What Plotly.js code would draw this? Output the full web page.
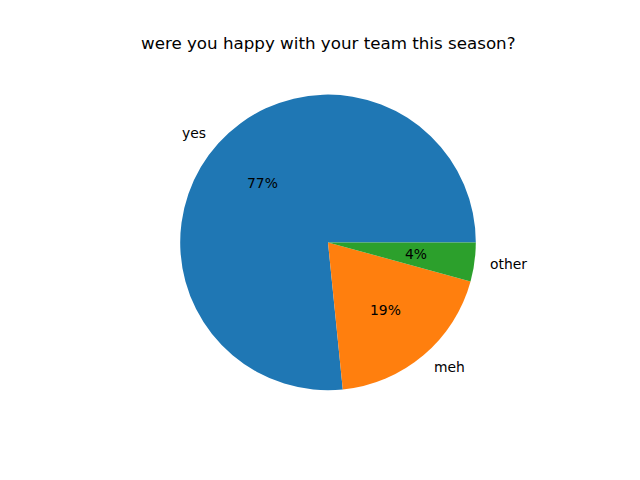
<!DOCTYPE html>
<html><head><meta charset="utf-8">
<script src="https://cdn.plot.ly/plotly-3.0.1.min.js"></script>
<style>body{margin:0;padding:0;background:#fff}#chart{width:640px;height:480px}</style>
</head><body><div id="chart"></div>
<script>
var labels = ["yes", "meh", "other"];
var values = [36, 9, 2];
var colors = ["#1f77b4", "#ff7f0e", "#2ca02c"];
var chartTitle = "were you happy with your team this season?";

var W = 640, H = 480;
var cx = 328, cy = 242.4, R = 147.8;
var font = "DejaVu Sans, sans-serif";

var total = values.reduce(function(a,b){return a+b;}, 0);
var annotations = [];
var start = 0;
values.forEach(function(v, i){
  var frac = v / total;
  var mid = (start + frac * 180) * Math.PI / 180;
  start += frac * 360;
  var c = Math.cos(mid), s = Math.sin(mid);
  annotations.push({
    xref: "paper", yref: "paper",
    x: (cx + 1.1 * R * c) / W, y: 1 - (cy - 1.1 * R * s) / H,
    text: labels[i], showarrow: false,
    xanchor: c >= 0 ? "left" : "right", yanchor: "middle",
    font: {family: font, size: 13.9, color: "#000"}, borderpad: 0
  });
  annotations.push({
    xref: "paper", yref: "paper",
    x: (cx + 0.6 * R * c) / W, y: 1 - (cy - 0.6 * R * s) / H,
    text: Math.round(frac * 100) + "%", showarrow: false,
    xanchor: "center", yanchor: "middle",
    font: {family: font, size: 13.9, color: "#000"}, borderpad: 0
  });
});
annotations.push({
  xref: "paper", yref: "paper", x: cx / W, y: 1 - 43 / H,
  text: chartTitle, showarrow: false, xanchor: "center", yanchor: "middle",
  font: {family: font, size: 16.7, color: "#000"}, borderpad: 0
});

// matplotlib-style: first slice starts at 3 o'clock going counterclockwise
var rot = 90 - 360 * values[0] / total;
var trace = {
  type: "pie", labels: labels, values: values, sort: false,
  direction: "counterclockwise", rotation: rot,
  marker: {colors: colors, line: {width: 0}},
  textinfo: "none", hoverinfo: "none",
  domain: {x: [(cx - R) / W, (cx + R) / W], y: [1 - (cy + R) / H, 1 - (cy - R) / H]}
};
var layout = {
  width: W, height: H, margin: {l:0, r:0, t:0, b:0},
  showlegend: false, paper_bgcolor: "#fff", plot_bgcolor: "#fff",
  annotations: annotations
};
Plotly.newPlot("chart", [trace], layout, {displayModeBar: false, staticPlot: true});
</script></body></html>
